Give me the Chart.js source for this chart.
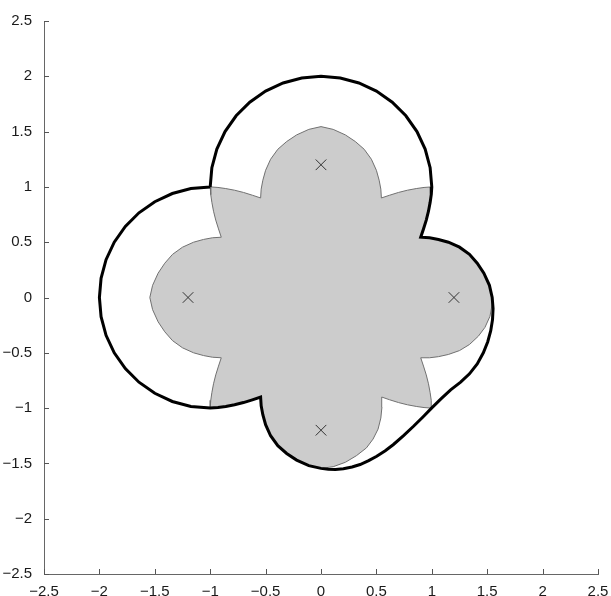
<!DOCTYPE html>
<html>
<head>
<meta charset="utf-8">
<script src="https://cdn.jsdelivr.net/npm/chart.js@4.4.0/dist/chart.umd.min.js"></script>
<style>
  html, body { margin: 0; padding: 0; background: #ffffff; }
  #plot { display: block; }
</style>
</head>
<body>
<canvas id="plot" width="611" height="596"></canvas>
<script>
// Axis tick positions (both axes share the same range)
const tickValues = [-2.5, -2, -1.5, -1, -0.5, 0, 0.5, 1, 1.5, 2, 2.5];

// Boundary of the shaded flower-shaped region, traced counter-clockwise from the top tip
const shadedBoundary = [
  // top petal, left half
  [0, 1.545], [-0.11, 1.52], [-0.22, 1.47], [-0.31, 1.41], [-0.39, 1.34], [-0.455, 1.25],
  [-0.50, 1.15], [-0.525, 1.06], [-0.54, 0.98], [-0.545, 0.90],
  // upper-left corner lobe
  [-0.62, 0.925], [-0.70, 0.95], [-0.78, 0.97], [-0.86, 0.985], [-0.93, 0.995], [-1.0, 1.0],
  [-0.995, 0.93], [-0.985, 0.86], [-0.97, 0.78], [-0.95, 0.70], [-0.925, 0.62], [-0.90, 0.545],
  // left petal
  [-0.98, 0.54], [-1.06, 0.525], [-1.15, 0.50], [-1.25, 0.455], [-1.34, 0.39], [-1.41, 0.31],
  [-1.47, 0.22], [-1.52, 0.11], [-1.545, 0], [-1.52, -0.11], [-1.47, -0.22], [-1.41, -0.31],
  [-1.34, -0.39], [-1.25, -0.455], [-1.15, -0.50], [-1.06, -0.525], [-0.98, -0.54], [-0.90, -0.545],
  // lower-left corner lobe
  [-0.925, -0.62], [-0.95, -0.70], [-0.97, -0.78], [-0.985, -0.86], [-0.995, -0.93], [-1.0, -1.0],
  [-0.93, -0.995], [-0.86, -0.985], [-0.78, -0.97], [-0.70, -0.95], [-0.62, -0.925], [-0.545, -0.90],
  // bottom petal
  [-0.54, -0.98], [-0.525, -1.06], [-0.50, -1.15], [-0.455, -1.25], [-0.39, -1.34], [-0.31, -1.41],
  [-0.22, -1.47], [-0.11, -1.52], [0, -1.545], [0.11, -1.53], [0.22, -1.49], [0.32, -1.43],
  [0.41, -1.36], [0.47, -1.28], [0.515, -1.19], [0.54, -1.09], [0.55, -0.99], [0.548, -0.90],
  // lower-right corner lobe
  [0.62, -0.925], [0.70, -0.95], [0.78, -0.97], [0.86, -0.985], [0.93, -0.995], [1.0, -1.0],
  [0.995, -0.93], [0.985, -0.86], [0.97, -0.78], [0.95, -0.70], [0.925, -0.62], [0.90, -0.545],
  // right petal
  [0.98, -0.545], [1.06, -0.535], [1.15, -0.515], [1.25, -0.48], [1.34, -0.425], [1.42, -0.35],
  [1.48, -0.27], [1.525, -0.17], [1.545, -0.06], [1.545, 0], [1.52, 0.11], [1.47, 0.22],
  [1.41, 0.31], [1.34, 0.39], [1.25, 0.455], [1.15, 0.50], [1.06, 0.525], [0.98, 0.54], [0.90, 0.545],
  // upper-right corner lobe
  [0.925, 0.62], [0.95, 0.70], [0.97, 0.78], [0.985, 0.86], [0.995, 0.93], [1.0, 1.0],
  [0.93, 0.995], [0.86, 0.985], [0.78, 0.97], [0.70, 0.95], [0.62, 0.925], [0.545, 0.90],
  // top petal, right half
  [0.54, 0.98], [0.525, 1.06], [0.50, 1.15], [0.455, 1.25], [0.39, 1.34], [0.31, 1.41],
  [0.22, 1.47], [0.11, 1.52], [0, 1.545]
];

// Thick enclosing curve, traced clockwise from the upper-left junction
const outerCurve = [
  // upper arc
  [-1, 1], [-0.985, 1.174], [-0.94, 1.342], [-0.866, 1.5], [-0.766, 1.643], [-0.643, 1.766],
  [-0.5, 1.866], [-0.342, 1.94], [-0.174, 1.985], [0, 2], [0.174, 1.985], [0.342, 1.94],
  [0.5, 1.866], [0.643, 1.766], [0.766, 1.643], [0.866, 1.5], [0.94, 1.342], [0.985, 1.174], [1, 1],
  // down the upper-right lobe into the notch
  [0.995, 0.93], [0.985, 0.86], [0.97, 0.78], [0.95, 0.70], [0.925, 0.62], [0.90, 0.545],
  // around the right petal
  [0.98, 0.54], [1.06, 0.525], [1.15, 0.50], [1.25, 0.455], [1.34, 0.39], [1.41, 0.31],
  [1.47, 0.22], [1.52, 0.11], [1.545, 0],
  // lower-right sweep
  [1.553, -0.10], [1.548, -0.20], [1.532, -0.30], [1.505, -0.40], [1.465, -0.50], [1.41, -0.60],
  [1.34, -0.69], [1.26, -0.765], [1.17, -0.835], [1.085, -0.915], [1.0, -0.998], [0.92, -1.08],
  [0.835, -1.164], [0.745, -1.248], [0.654, -1.329], [0.58, -1.385], [0.503, -1.435], [0.43, -1.475],
  [0.353, -1.51], [0.28, -1.533], [0.202, -1.549], [0.13, -1.555], [0.066, -1.552], [0, -1.545],
  // up the bottom petal and along the lower-left lobe
  [-0.11, -1.52], [-0.22, -1.47], [-0.31, -1.41], [-0.39, -1.34], [-0.455, -1.25], [-0.50, -1.15],
  [-0.525, -1.06], [-0.54, -0.98], [-0.545, -0.90],
  [-0.62, -0.925], [-0.70, -0.95], [-0.78, -0.97], [-0.86, -0.985], [-0.93, -0.995], [-1.0, -1.0],
  // left arc
  [-1.174, -0.985], [-1.342, -0.94], [-1.5, -0.866], [-1.643, -0.766], [-1.766, -0.643],
  [-1.866, -0.5], [-1.94, -0.342], [-1.985, -0.174], [-2, 0], [-1.985, 0.174], [-1.94, 0.342],
  [-1.866, 0.5], [-1.766, 0.643], [-1.643, 0.766], [-1.5, 0.866], [-1.342, 0.94], [-1.174, 0.985], [-1, 1]
];

// Marked points
const markerX = [0, -1.2, 1.2, 0];
const markerY = [1.2, 0, 0, -1.2];

const toPoints = (pairs) => pairs.map(([x, y]) => ({ x, y }));
const fmt = (v) => (v < 0 ? '\u2212' + Math.abs(v) : String(v));

const inwardTicks = {
  id: 'inwardTicks',
  afterDraw(chart) {
    const { ctx, chartArea, scales } = chart;
    ctx.save();
    ctx.strokeStyle = '#555555';
    ctx.lineWidth = 1;
    ctx.beginPath();
    scales.x.ticks.forEach((t) => {
      const p = Math.round(scales.x.getPixelForValue(t.value)) + 0.5;
      ctx.moveTo(p, chartArea.bottom);
      ctx.lineTo(p, chartArea.bottom - 5);
    });
    scales.y.ticks.forEach((t) => {
      const p = Math.round(scales.y.getPixelForValue(t.value)) + 0.5;
      ctx.moveTo(chartArea.left, p);
      ctx.lineTo(chartArea.left + 5, p);
    });
    ctx.stroke();
    ctx.restore();
  }
};

const tickFont = { family: "'Liberation Sans', Arial, Helvetica, sans-serif", size: 15 };

new Chart(document.getElementById('plot'), {
  type: 'line',
  data: {
    datasets: [
      {
        data: markerX.map((x, i) => ({ x, y: markerY[i] })),
        showLine: false,
        pointStyle: 'crossRot',
        pointRadius: 7.5,
        pointBorderColor: '#333333',
        pointBorderWidth: 1,
        borderColor: '#333333'
      },
      {
        data: toPoints(outerCurve),
        borderColor: '#000000',
        borderWidth: 3,
        pointRadius: 0,
        fill: false,
        tension: 0
      },
      {
        data: toPoints(shadedBoundary),
        borderColor: '#707070',
        borderWidth: 1,
        backgroundColor: '#cccccc',
        pointRadius: 0,
        fill: 'shape',
        tension: 0
      }
    ]
  },
  options: {
    responsive: false,
    animation: false,
    devicePixelRatio: 1,
    layout: { padding: { left: 0, top: 21, right: 13, bottom: 0 } },
    plugins: { legend: { display: false }, tooltip: { enabled: false } },
    scales: {
      x: {
        type: 'linear',
        min: -2.5,
        max: 2.5,
        afterBuildTicks: (s) => { s.ticks = tickValues.map((v) => ({ value: v })); },
        afterFit: (s) => { s.height = 22; },
        grid: { display: false },
        border: { display: true, color: '#666666', width: 1 },
        ticks: { autoSkip: false, maxRotation: 0, padding: 1, color: '#1a1a1a', font: tickFont, callback: fmt }
      },
      y: {
        type: 'linear',
        min: -2.5,
        max: 2.5,
        afterBuildTicks: (s) => { s.ticks = tickValues.map((v) => ({ value: v })); },
        afterFit: (s) => { s.width = 44; },
        grid: { display: false },
        border: { display: true, color: '#666666', width: 1 },
        ticks: { autoSkip: false, padding: 4, color: '#1a1a1a', font: tickFont, callback: fmt }
      }
    }
  },
  plugins: [inwardTicks]
});
</script>
</body>
</html>
